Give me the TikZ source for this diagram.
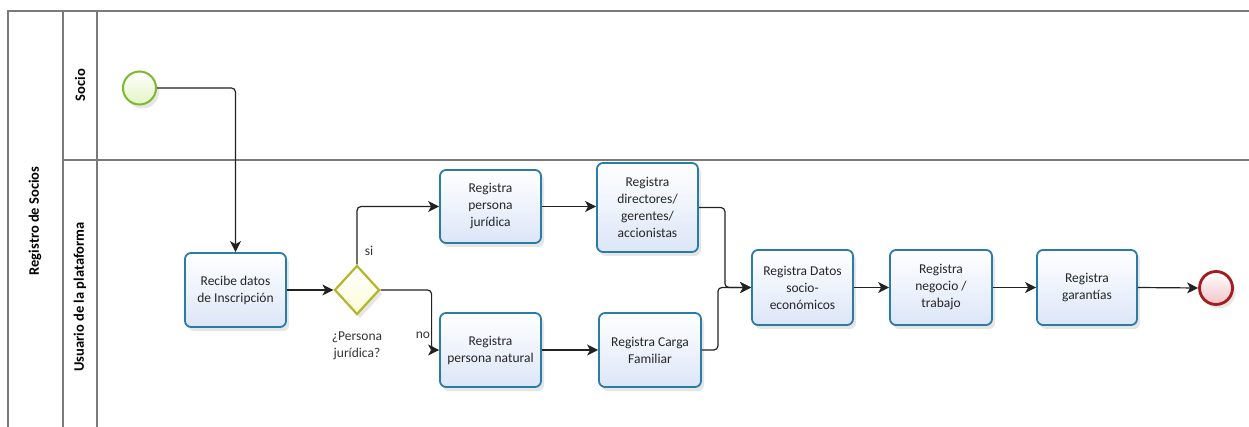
\documentclass[tikz,border=0pt]{standalone}
\usepackage{fontspec}
\setmainfont{Carlito}
\usetikzlibrary{arrows.meta,shapes.geometric,shadows,calc}
\definecolor{poolline}{HTML}{7A7A7A}
\definecolor{taskborder}{HTML}{2B7BA8}
\definecolor{taskfill}{HTML}{DCE6F8}
\definecolor{startborder}{HTML}{7DB92E}
\definecolor{startfill}{HTML}{E4F5C4}
\definecolor{endborder}{HTML}{A51A1A}
\definecolor{endfill}{HTML}{F2C4C8}
\definecolor{gwborder}{HTML}{B5B52A}
\definecolor{gwfill}{HTML}{FBFBD8}
\definecolor{flowcol}{HTML}{222222}
\tikzset{
  poolln/.style={draw=poolline,line width=1.2pt},
  task/.style={draw=taskborder,line width=1.8pt,rounded corners=6pt,
    top color=white,bottom color=taskfill,align=center,
    font=\fontsize{13.5}{17}\selectfont,text=black!85,inner sep=2pt,
    drop shadow={opacity=0.2,shadow xshift=3pt,shadow yshift=-4pt}},
  startev/.style={circle,draw=startborder,line width=2pt,minimum size=33pt,inner sep=0pt,
    top color=white,bottom color=startfill,
    drop shadow={opacity=0.2,shadow xshift=3pt,shadow yshift=-4pt}},
  endev/.style={circle,draw=endborder,line width=2.8pt,minimum size=33pt,inner sep=0pt,
    top color=white,bottom color=endfill,
    drop shadow={opacity=0.2,shadow xshift=3pt,shadow yshift=-4pt}},
  gateway/.style={diamond,draw=gwborder,line width=2.2pt,minimum width=45pt,minimum height=49pt,
    inner sep=0pt,top color=white,bottom color=gwfill,
    drop shadow={opacity=0.2,shadow xshift=3pt,shadow yshift=-4pt}},
  flow/.style={draw=flowcol,line width=1.2pt,rounded corners=4pt,
    -{Stealth[length=11pt,width=11pt,inset=3pt]}},
  lbl/.style={font=\fontsize{13.5}{17}\selectfont,text=black!80,align=center},
  lanelbl/.style={font=\bfseries\fontsize{14.5}{16}\selectfont,rotate=90}
}
\begin{document}
\begin{tikzpicture}[x=1pt,y=-1pt]
\useasboundingbox (0,0) rectangle (1249,427);
% pool and lanes
\draw[poolln] (8,427) -- (8,11) -- (1249,11);
\draw[poolln] (63,11) -- (63,427);
\draw[poolln] (97,11) -- (97,427);
\draw[poolln] (63,160) -- (1249,160);
\node[lanelbl] (pool) at (35,221) {Registro de Socios};
\node[lanelbl] (lane1) at (80,85) {Socio};
\node[lanelbl] (lane2) at (80,297) {Usuario de la plataforma};
% nodes
\node[startev] (start) at (139.5,88) {};
\node[task,minimum width=101pt,minimum height=74pt] (recibe) at (235.5,290) {Recibe datos\\de Inscripción};
\node[gateway] (gw) at (357,290) {};
\node[lbl] (gwl) at (357,346) {¿Persona\\jurídica?};
\node[task,minimum width=101pt,minimum height=73pt] (pj) at (490.5,206.5) {Registra\\persona\\jurídica};
\node[task,minimum width=101pt,minimum height=89pt] (dir) at (647.5,207.5) {Registra\\directores/\\gerentes/\\accionistas};
\node[task,minimum width=101pt,minimum height=74pt] (pn) at (490.5,350) {Registra\\persona natural};
\node[task,minimum width=102pt,minimum height=74pt] (carga) at (650,350) {Registra Carga\\Familiar};
\node[task,minimum width=101pt,minimum height=75pt] (datos) at (802.5,287.5) {Registra Datos\\socio-\\económicos};
\node[task,minimum width=102pt,minimum height=75pt] (negocio) at (941,287.5) {Registra\\negocio /\\trabajo};
\node[task,minimum width=100pt,minimum height=75pt] (garantias) at (1087,287.5) {Registra\\garantías};
\node[endev] (end) at (1216,288) {};
\node[lbl] (si) at (369,251) {si};
\node[lbl] (no) at (423,335) {no};
% flows
\draw[flow] (start.east) -| (recibe.north);
\draw[flow] (recibe.east) -- (gw.west);
\draw[flow] (gw.north) |- (pj.west);
\draw[flow] (gw.east) -- ++(51,0) |- (pn.west);
\draw[flow] (pj.east) -- (pj.east -| dir.west);
\draw[flow] (pn.east) -- (carga.west);
\draw[flow] (dir.east) -- ++(26,0) |- (datos.west);
\draw[flow] (carga.east) -- ++(16,0) |- (datos.west);
\draw[flow] (datos.east) -- (negocio.west);
\draw[flow] (negocio.east) -- (garantias.west);
\draw[flow] (garantias.east) -- (end.west);
\end{tikzpicture}
\end{document}
